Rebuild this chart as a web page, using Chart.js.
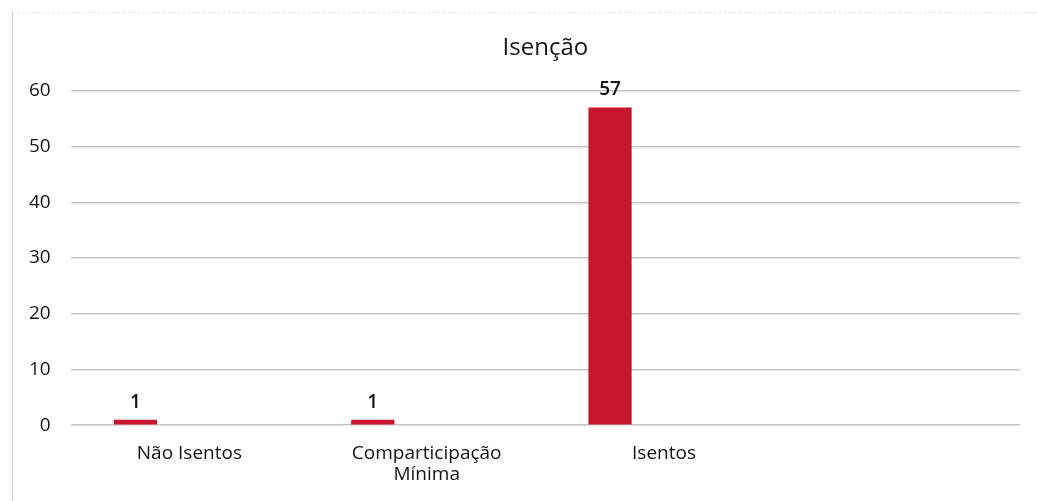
<!DOCTYPE html>
<html lang="pt">
<head>
<meta charset="utf-8">
<title>Isenção</title>
<script src="https://cdn.jsdelivr.net/npm/chart.js@4/dist/chart.umd.min.js"></script>
<style>
  html, body { margin: 0; padding: 0; background: #fff; }
  #wrap { position: relative; width: 1037px; height: 501px; }
  #frame {
    position: absolute; left: 12px; top: 12px; right: 0; bottom: 0;
    border-left: 1px solid #d4d4d4; border-top: 1px dashed #e2e2e2;
    pointer-events: none;
  }
  canvas { position: absolute; left: 0; top: 0; }
</style>
</head>
<body>
<div id="wrap">
  <canvas id="bars" width="1037" height="501"></canvas>
  <div id="frame"></div>
</div>
<script>
const categories = ['Não Isentos', ['Comparticipação', 'Mínima'], 'Isentos', ''];
const utentes = [1, 1, 57, null];
const outros = [null, null, null, null]; // second series, no values reported
const yTicks = [0, 10, 20, 30, 40, 50, 60];

const barRed = '#c8162f';
const textColor = '#141414';
const fontFamily = '"Open Sans", "Noto Sans", sans-serif';

// write each bar's value just above it
const valueLabels = {
  id: 'valueLabels',
  afterDatasetsDraw(chart) {
    const ctx = chart.ctx;
    const meta = chart.getDatasetMeta(0);
    ctx.save();
    ctx.font = '600 19px ' + fontFamily;
    ctx.fillStyle = textColor;
    ctx.textAlign = 'center';
    ctx.textBaseline = 'bottom';
    meta.data.forEach((bar, i) => {
      const v = utentes[i];
      if (v == null) return;
      ctx.fillText(String(v), bar.x, bar.y - 8);
    });
    ctx.restore();
  }
};

const barConfig = {
  type: 'bar',
  data: {
    labels: categories,
    datasets: [
      { label: 'Utentes', data: utentes, backgroundColor: barRed },
      { label: 'Outros', data: outros, backgroundColor: '#999' },
    ],
  },
  options: {
    responsive: false,
    animation: false,
    categoryPercentage: 0.91,
    barPercentage: 0.4,
    layout: { padding: { left: 9, right: 17, top: 0, bottom: 6 } },
    plugins: {
      legend: { display: false },
      tooltip: { enabled: false },
      title: {
        display: true,
        text: 'Isenção',
        fullSize: false,
        color: textColor,
        font: { family: fontFamily, size: 24, weight: 'normal' },
        padding: { top: 34, bottom: 28 },
      },
    },
    scales: {
      x: {
        grid: { display: false },
        border: { display: false },
        ticks: {
          color: textColor,
          font: { family: fontFamily, size: 19, lineHeight: 1.1 },
          padding: 10,
          maxRotation: 0,
          autoSkip: false,
        },
      },
      y: {
        min: 0,
        max: 60,
        afterBuildTicks(scale) {
          scale.ticks = yTicks.map(v => ({ value: v }));
        },
        grid: { color: '#c6c6c6', lineWidth: 1.5, drawTicks: false },
        border: { display: false },
        ticks: {
          color: textColor,
          font: { family: fontFamily, size: 19 },
          padding: 20,
        },
      },
    },
  },
  plugins: [valueLabels],
};

const barCtx = document.getElementById('bars');
window.isencaoChart = new Chart(barCtx, barConfig);
</script>
</body>
</html>
